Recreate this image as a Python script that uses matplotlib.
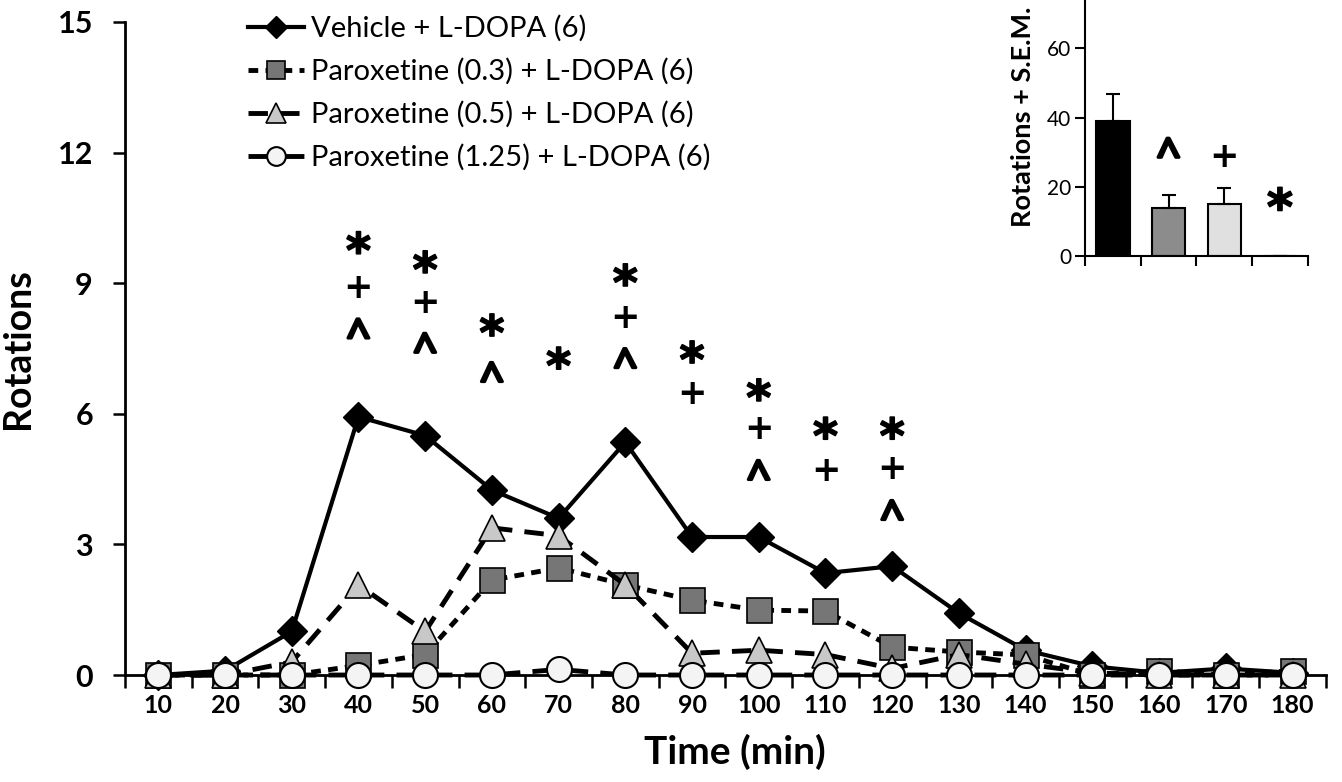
import matplotlib
matplotlib.use("Agg")
import matplotlib.pyplot as plt
import matplotlib.patheffects as pe
import numpy as np
from matplotlib.font_manager import FontProperties
from matplotlib.textpath import TextPath
from matplotlib.transforms import offset_copy

plt.rcParams['font.family'] = ['Lato', 'DejaVu Sans']

# time points (min)
times = [10, 20, 30, 40, 50, 60, 70, 80, 90, 100, 110, 120, 130, 140, 150, 160, 170, 180]

vehicle = [0, 0.1, 1.0, 5.93, 5.5, 4.25, 3.6, 5.35, 3.17, 3.17, 2.34, 2.5, 1.42, 0.57, 0.2, 0.05, 0.15, 0.05]
parox_03 = [0, 0, 0, 0.22, 0.47, 2.18, 2.46, 2.07, 1.72, 1.49, 1.47, 0.64, 0.53, 0.46, 0, 0.1, 0, 0.1]
parox_05 = [0, 0, 0.3, 2.07, 1.0, 3.38, 3.2, 2.07, 0.5, 0.57, 0.47, 0.15, 0.47, 0.25, 0.05, 0, 0, 0]
parox_125 = [0, 0, 0, 0, 0, 0, 0.13, 0, 0, 0, 0, 0, 0, 0, 0, 0, 0, 0]

labels = ['Vehicle + L-DOPA (6)', 'Paroxetine (0.3) + L-DOPA (6)',
          'Paroxetine (0.5) + L-DOPA (6)', 'Paroxetine (1.25) + L-DOPA (6)']

# significance marks above the time course (time, symbol, y)
sig_times = [40, 40, 40, 50, 50, 50, 60, 60, 70, 80, 80, 80, 90, 90, 100, 100, 100, 110, 110, 120, 120, 120]
sig_syms = ['*', '+', '^', '*', '+', '^', '*', '^', '*', '*', '+', '^', '*', '+', '*', '+', '^', '*', '+', '*', '+', '^']
sig_y = [9.93, 8.91, 7.96, 9.49, 8.57, 7.63, 8.04, 6.96, 7.28, 9.19, 8.22, 7.28, 7.42, 6.48, 6.55, 5.67, 4.71, 5.67, 4.71, 5.67, 4.76, 3.79]

# inset: total rotations
inset_vals = [39.1, 13.9, 15.1, 0]
inset_sem = [7.6, 3.8, 4.6, 0]
inset_syms = ['^', '+', '*']
inset_sym_y = [31.3, 29.0, 16.5]

sym_font = {'*': 'DejaVu Sans', '+': 'DejaVu Sans', '^': 'Noto Sans'}
sym_stroke = {'*': 1.2, '+': 0, '^': 2.2}


def mark(ax, x, y, s, width_px):
    # put a symbol with its ink centred on (x, y), sized by ink width
    fp = FontProperties(family=sym_font[s], weight='bold', size=10)
    bb = TextPath((0, 0), s, prop=fp).get_extents()
    fs = 10 * width_px * 0.72 / bb.width
    cx = (bb.x0 + bb.x1) / 2 * fs / 10
    cy = (bb.y0 + bb.y1) / 2 * fs / 10
    tr = offset_copy(ax.transData, fig=ax.figure, x=-cx, y=-cy, units='points')
    t = ax.text(x, y, s, transform=tr, ha='left', va='baseline', fontsize=fs,
                fontweight='bold', family=sym_font[s])
    if sym_stroke[s]:
        t.set_path_effects([pe.withStroke(linewidth=sym_stroke[s], foreground='black')])


fig = plt.figure(figsize=(13.42, 7.82), dpi=100)
ax = fig.add_axes([0.0931, 0.1368, 0.8949, 0.8351])

ax.plot(times, vehicle, color='black', lw=3, marker='D', ms=15,
        mfc='black', mec='black', label=labels[0], zorder=3)
ax.plot(times, parox_03, color='black', lw=3.5, ls=(0, (2, 1.5)), marker='s', ms=18,
        mfc='#767676', mec='black', mew=1.2, label=labels[1], zorder=4)
ax.plot(times, parox_05, color='black', lw=3.5, ls=(0, (4, 2.5)), marker='^', ms=19,
        mfc='#c8c8c8', mec='black', mew=1.2, label=labels[2], zorder=5)
ax.plot(times, parox_125, color='black', lw=3.5, ls=(0, (4.5, 2.5)), marker='o', ms=18,
        mfc='#f4f4f4', mec='black', mew=1.5, label=labels[3], zorder=6)

sym_w = {'*': 23, '+': 22, '^': 21}
for t, s, y in zip(sig_times, sig_syms, sig_y):
    mark(ax, t, y, s, sym_w[s])

ax.set_xlim(5, 185)
ax.set_ylim(0, 15)
ax.set_yticks([0, 3, 6, 9, 12, 15])
ax.set_xticks(times)
ax.set_xticks(np.arange(5, 190, 10), minor=True)
ax.tick_params(axis='x', which='major', length=0, pad=14, labelsize=18)
ax.tick_params(axis='x', which='minor', length=9, width=1.8, direction='out')
ax.tick_params(axis='y', length=9, width=1.8, direction='out', pad=14, labelsize=22)
for lab in ax.get_xticklabels() + ax.get_yticklabels():
    lab.set_fontweight('bold')
for sp in ['top', 'right']:
    ax.spines[sp].set_visible(False)
for sp in ['left', 'bottom']:
    ax.spines[sp].set_linewidth(2)
for ln in ax.lines:
    ln.set_clip_on(False)

ax.set_ylabel('Rotations', fontsize=27, fontweight='bold', labelpad=16)
ax.set_xlabel('Time (min)', fontsize=28, fontweight='bold', labelpad=8)
ax.xaxis.set_label_coords(0.508, -0.09)

leg = ax.legend(loc='upper left', bbox_to_anchor=(0.093, 1.028), frameon=False,
                fontsize=21, handlelength=1.9, handletextpad=0.25, labelspacing=0.55,
                borderaxespad=0, markerscale=0.75)

# inset bar chart
ins = fig.add_axes([0.8085, 0.6726, 0.166, 0.3274])
xs = np.arange(4)
ins.bar(xs, inset_vals, width=0.6, color=['black', '#8c8c8c', '#e0e0e0', 'white'],
        edgecolor='black', linewidth=1.5,
        yerr=[np.zeros(4), inset_sem], error_kw=dict(ecolor='black', elinewidth=1.5, capsize=5, capthick=1.5))
ins_w = {'*': 24, '+': 22, '^': 21}
for x, s, y in zip(xs[1:], inset_syms, inset_sym_y):
    mark(ins, x, y, s, ins_w[s])
ins.set_xlim(-0.5, 3.5)
ins.set_ylim(0, 74)
ins.set_yticks([0, 20, 40, 60])
ins.set_xticks([])
ins.set_xticks(np.arange(-0.5, 4, 1), minor=True)
ins.tick_params(axis='x', which='minor', length=7, width=1.5)
ins.tick_params(axis='y', length=7, width=1.5, labelsize=15, pad=3)
for sp in ['top', 'right']:
    ins.spines[sp].set_visible(False)
for sp in ['left', 'bottom']:
    ins.spines[sp].set_linewidth(1.5)
ins.set_ylabel('Rotations + S.E.M.', fontsize=19.5, fontweight='bold')
ins.yaxis.set_label_coords(-0.224, 0.545)
ins.patch.set_alpha(0)

fig.savefig('out.png', dpi=100)
